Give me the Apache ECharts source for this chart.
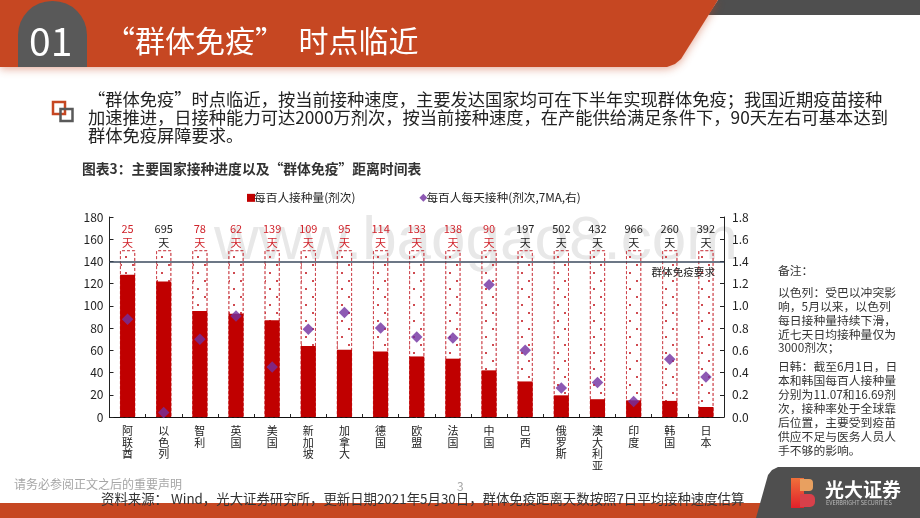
<!DOCTYPE html>
<html>
<head>
<meta charset="utf-8">
<style>
    html, body { margin: 0; padding: 0; background: #fff; }
    #chart { width: 920px; height: 518px; }
</style>
<script src="https://cdn.jsdelivr.net/npm/echarts@6/dist/echarts.min.js"></script>
</head>
<body>
<div id="chart"></div>
<script>
// 数据
const countries = ['阿联酋', '以色列', '智利', '英国', '美国', '新加坡', '加拿大', '德国', '欧盟', '法国', '中国', '巴西', '俄罗斯', '澳大利亚', '印度', '韩国', '日本']
const dosesPer100 = [128, 122, 95.5, 93, 87, 64, 60.5, 59, 54.5, 52.5, 42, 32, 19.5, 16, 15, 14.5, 9]
const dailyPer100 = [0.88, 0.04, 0.7, 0.91, 0.45, 0.79, 0.94, 0.8, 0.72, 0.71, 1.19, 0.6, 0.26, 0.31, 0.14, 0.52, 0.36]
const daysToHerd = [25, 695, 78, 62, 139, 109, 95, 114, 133, 138, 90, 197, 502, 432, 966, 260, 392]
const herdBox = [150, 150, 150, 150, 150, 150, 150, 150, 150, 150, 150, 150, 150, 150, 150, 150, 150]
const herdLine = 140
const redDays = ['阿联酋', '智利', '英国', '美国', '新加坡', '加拿大', '德国', '欧盟', '法国', '中国']

const bodyLines = [
    ['“群体免疫”时点临近，按当前接种速度，主要发达国家均可在下半年实现群体免疫；我国近期疫苗接种', 88, 99],
    ['加速推进，日接种能力可达2000万剂次，按当前接种速度，在产能供给满足条件下，90天左右可基本达到', 88, 117],
    ['群体免疫屏障要求。', 88, 135],
]
const noteLines = [
    ['备注：', 271], ['以色列：受巴以冲突影', 293], ['响，5月以来，以色列', 307], ['每日接种量持续下滑，', 321],
    ['近七天日均接种量仅为', 335], ['3000剂次；', 348], ['日韩：截至6月1日，日', 367], ['本和韩国每百人接种量', 381],
    ['分别为11.07和16.69剂', 395], ['次，接种率处于全球靠', 409], ['后位置，主要受到疫苗', 423], ['供应不足与医务人员人', 437], ['手不够的影响。', 451],
]

const FONT = '"Noto Sans CJK SC", "Noto Sans", sans-serif'
const RED = '#c00000'
const ORANGE = '#c64722'
const DARK = '#4f4f4f'

function text(str, x, y, size, color, extra) {
    return {
        type: 'text', x: x, y: y, z: 100,
        style: Object.assign({ text: str, fontFamily: FONT, fontSize: size, fill: color, textVerticalAlign: 'middle' }, extra),
    }
}

// 页面装饰：页眉、页脚、文字
let graphics = [
    // 水印
    { type: 'text', x: 214, y: 242, z: -5, style: { text: 'www.baogao8.com', fontFamily: '"Liberation Sans"', fontSize: 62, fill: '#e8e8e8', textVerticalAlign: 'middle' } },
    // 页眉
    { type: 'polygon', z: 5, shape: { points: [[718, 0], [920, 0], [920, 15], [708, 15]] }, style: { fill: DARK } },
    { type: 'polygon', z: 6, shape: { points: [[0, 0], [718, 0], [681, 59], [675, 64], [667, 67], [0, 67]] }, style: { fill: ORANGE, shadowBlur: 8, shadowColor: 'rgba(198,71,34,0.45)', shadowOffsetY: 2 } },
    { type: 'rect', z: 7, shape: { x: 18, y: 1, width: 69, height: 66, r: [34, 34, 0, 0] }, style: { fill: '#595959' } },
    text('01', 29, 41, 39, '#fff'),
    text('“群体免疫”  时点临近', 105, 41, 30, '#fff'),
    // 小图标
    { type: 'rect', z: 7, shape: { x: 53, y: 102, width: 12, height: 12 }, style: { fill: 'none', stroke: ORANGE, lineWidth: 2.5 } },
    { type: 'rect', z: 8, shape: { x: 60.5, y: 109, width: 12, height: 12 }, style: { fill: 'none', stroke: '#595959', lineWidth: 2.5 } },
    // 图表标题
    text('图表3：主要国家接种进度以及“群体免疫”距离时间表', 82, 169, 13.8, '#333', { fontWeight: 'bold' }),
    // 页脚
    { type: 'rect', z: 5, shape: { x: 0, y: 503, width: 775, height: 15 }, style: { fill: ORANGE } },
    { type: 'polygon', z: 6, shape: { points: [[756, 518], [768, 475], [772, 470], [778, 467], [920, 467], [920, 518]] }, style: { fill: DARK } },
    { type: 'rect', z: 7, shape: { x: 791, y: 478, width: 13, height: 30 }, style: { fill: new echarts.graphic.LinearGradient(0, 0, 0, 1, [{ offset: 0, color: '#f0703a' }, { offset: 1, color: '#e0202a' }]) } },
    { type: 'rect', z: 7, shape: { x: 800, y: 479, width: 13, height: 12, r: [0, 4, 4, 0] }, style: { fill: '#e8a060' } },
    { type: 'rect', z: 7, shape: { x: 800, y: 494, width: 15, height: 13, r: [0, 5, 5, 0] }, style: { fill: '#d8404a' } },
    text('光大证券', 825, 490, 19, '#fff', { fontWeight: 'bold' }),
    text('EVERBRIGHT SECURITIES', 826, 503, 5.6, '#bbb'),
    text('请务必参阅正文之后的重要声明', 14, 484, 12, '#a6a6a6'),
    text('3', 457, 486, 12, '#a6a6a6'),
    text('资料来源： Wind，光大证券研究所，更新日期2021年5月30日，群体免疫距离天数按照7日平均接种速度估算', 101, 499, 13.4, '#333'),
]
bodyLines.forEach(l => graphics.push(text(l[0], l[1], l[2], 17.27, '#222')))
noteLines.forEach(l => graphics.push(text(l[0], 778, l[1], 11.8, '#333')))

const mychart = echarts.init(document.getElementById('chart'))
let option = {
    animation: false,
    textStyle: { fontFamily: FONT },
    graphic: graphics,
    legend: {
        data: [
            { name: '每百人接种量(剂次)', icon: 'rect' },
            { name: '每百人每天接种(剂次,7MA,右)', icon: 'diamond' },
        ],
        left: 242,
        top: 187,
        itemWidth: 8,
        itemHeight: 8,
        itemGap: 64,
        itemStyle: { borderWidth: 0 },
        textStyle: { fontSize: 11.7, color: '#222', padding: [0, 0, 0, -6] },
    },
    grid: { left: 109.5, right: 196, top: 217, height: 200 },
    xAxis: {
        type: 'category',
        data: countries,
        axisTick: { show: true, inside: true, length: 3, lineStyle: { color: '#222' } },
        axisLine: { lineStyle: { color: '#111', width: 1 } },
        axisLabel: {
            interval: 0,
            margin: 8,
            color: '#222',
            fontSize: 11,
            lineHeight: 11.7,
            formatter: v => v.split('').join('\n'),
        },
    },
    yAxis: [
        {
            type: 'value', min: 0, max: 180, interval: 20,
            splitLine: { show: false },
            axisLine: { show: true, lineStyle: { color: '#222' } },
            axisTick: { show: true, inside: true, length: 4, lineStyle: { color: '#222' } },
            axisLabel: { color: '#222', fontSize: 12, margin: 6 },
        },
        {
            type: 'value', min: 0, max: 1.8, interval: 0.2,
            splitLine: { show: false },
            axisLine: { show: true, lineStyle: { color: '#222' } },
            axisTick: { show: true, inside: true, length: 4, lineStyle: { color: '#222' } },
            axisLabel: { color: '#222', fontSize: 12, margin: 8, formatter: v => v.toFixed(1) },
        },
    ],
    series: [
        // 虚线点阵框（到达群体免疫的距离）
        {
            name: '距离',
            type: 'bar',
            barWidth: 15,
            barGap: '-100%',
            z: 2,
            // 天数标签：进度快的国家用红色
            data: herdBox.map((v, i) => ({
                value: v,
                label: { color: redDays.includes(countries[i]) ? '#d0242c' : '#222' },
            })),
            itemStyle: {
                color: 'rgba(255,255,255,0)',
                borderColor: '#c8343c',
                borderWidth: 0.7,
                borderType: [3, 2],
                decal: { symbol: 'rect', symbolSize: 1, color: '#cf4a50', dashArrayX: [[1.2, 10], [0, 5, 1.2, 4.8]], dashArrayY: [1.2, 6] },
            },
            label: {
                show: true,
                position: 'top',
                distance: 0,
                fontSize: 11,
                lineHeight: 14.5,
                formatter: p => daysToHerd[p.dataIndex] + '\n天',
            },
        },
        {
            name: '每百人接种量(剂次)',
            type: 'bar',
            barWidth: 15,
            z: 3,
            data: dosesPer100,
            itemStyle: { color: RED },
            markLine: {
                silent: true,
                symbol: 'none',
                z: 4,
                lineStyle: { color: '#3b4a5e', width: 1.5, type: 'solid' },
                label: { position: 'insideEndBottom', distance: [9, 5], fontSize: 10.6, color: '#222', formatter: '群体免疫要求' },
                data: [{ yAxis: herdLine }],
            },
        },
        {
            name: '每百人每天接种(剂次,7MA,右)',
            type: 'scatter',
            yAxisIndex: 1,
            symbol: 'diamond',
            symbolSize: 11.5,
            z: 5,
            data: dailyPer100,
            itemStyle: { color: '#7030a0' },
        },
    ],
}
mychart.setOption(option)
</script>
</body>
</html>
